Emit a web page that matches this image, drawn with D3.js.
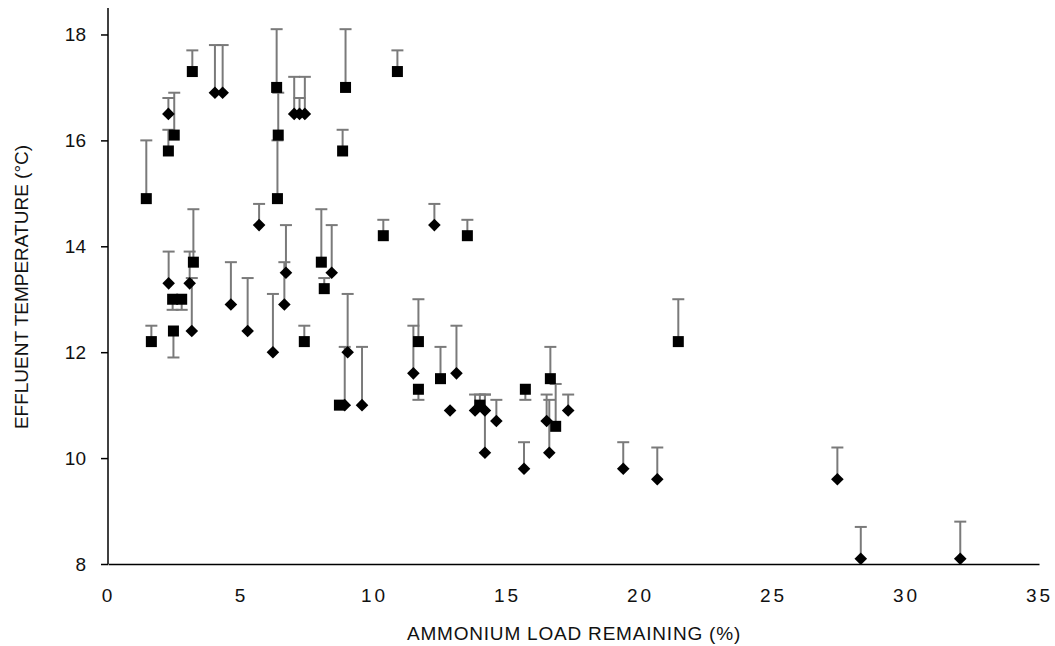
<!DOCTYPE html>
<html>
<head>
<meta charset="utf-8">
<script src="https://cdn.jsdelivr.net/npm/d3@7"></script>
<style>
  body { margin: 0; background: #fff; }
  svg { display: block; }
  text { font-family: "Liberation Sans", Arial, sans-serif; fill: #111; }
</style>
</head>
<body>
<svg id="chart" width="1055" height="646"></svg>
<script>
// Square series: ammonium load remaining (%), effluent temperature (°C), error (signed: + up, - down)
const squareX   = [1.44, 1.63, 2.27, 2.49, 2.43, 2.77, 2.46, 3.17, 3.21, 6.34, 6.40, 6.37, 7.38, 8.02, 8.13, 8.82, 8.93, 8.70, 10.35, 10.88, 11.67, 11.67, 12.50, 13.51, 13.98, 15.69, 16.63, 16.83, 21.44];
const squareY   = [14.9, 12.2, 15.8, 16.1, 13.0, 13.0, 12.4, 17.3, 13.7, 17.0, 16.1, 14.9, 12.2, 13.7, 13.2, 15.8, 17.0, 11.0, 14.2, 17.3, 12.2, 11.3, 11.5, 14.2, 11.0, 11.3, 11.5, 10.6, 12.2];
const squareErr = [1.1, 0.3, 0.4, 0.8, -0.2, -0.2, -0.5, 0.4, 1.0, 1.1, 0.8, 1.1, 0.3, 1.0, 0.2, 0.4, 1.1, 0, 0.3, 0.4, 0.8, -0.2, 0.6, 0.3, 0.2, -0.2, 0.6, 0.8, 0.8];

// Diamond series
const diamondX   = [2.27, 4.02, 4.31, 7.00, 7.20, 7.40, 5.68, 2.28, 3.07, 3.15, 4.62, 5.25, 6.20, 6.69, 6.63, 8.41, 9.01, 8.90, 9.55, 12.27, 11.48, 13.10, 12.86, 13.80, 14.17, 14.17, 14.60, 15.64, 16.49, 16.59, 17.30, 19.37, 20.65, 27.42, 28.30, 32.04];
const diamondY   = [16.5, 16.9, 16.9, 16.5, 16.5, 16.5, 14.4, 13.3, 13.3, 12.4, 12.9, 12.4, 12.0, 13.5, 12.9, 13.5, 12.0, 11.0, 11.0, 14.4, 11.6, 11.6, 10.9, 10.9, 10.9, 10.1, 10.7, 9.8, 10.7, 10.1, 10.9, 9.8, 9.6, 9.6, 8.1, 8.1];
const diamondErr = [0.3, 0.9, 0.9, 0.7, 0.3, 0.7, 0.4, 0.6, 0.6, 1.0, 0.8, 1.0, 1.1, 0.9, 0.8, 0.9, 1.1, 1.1, 1.1, 0.4, 0.9, 0.9, 0, 0.3, 0.3, 1.1, 0.4, 0.5, 0.5, 1.0, 0.3, 0.5, 0.6, 0.6, 0.6, 0.7];

const xTicks = [0, 5, 10, 15, 20, 25, 30, 35];
const yTicks = [8, 10, 12, 14, 16, 18];

const svg = d3.select("#chart");
const x = d3.scaleLinear().domain([0, 35]).range([108, 1039]);
const y = d3.scaleLinear().domain([8, 18.5]).range([564, 8]);

const squares = squareX.map((v, i) => ({ x: v, y: squareY[i], e: squareErr[i] }));
const diamonds = diamondX.map((v, i) => ({ x: v, y: diamondY[i], e: diamondErr[i] }));

// Error bars (drawn beneath markers)
const errG = svg.append("g").attr("stroke", "#7a7a7a").attr("stroke-width", 2);
[...squares, ...diamonds].filter(d => d.e !== 0).forEach(d => {
  const y0 = y(d.y), y1 = y(d.y + d.e), cx = x(d.x);
  errG.append("line").attr("x1", cx).attr("x2", cx).attr("y1", y0).attr("y2", y1);
  errG.append("line").attr("x1", cx - 6).attr("x2", cx + 6).attr("y1", y1).attr("y2", y1);
});

// Axes
const yAxis = svg.append("g").attr("transform", "translate(108,0)")
  .call(d3.axisLeft(y).tickValues(yTicks).tickSize(7).tickPadding(15).tickFormat(d3.format("d")));
yAxis.select(".domain").attr("d", `M0,${y(18.5)}V${y(8)}`).attr("stroke", "#000").attr("stroke-width", 1.5);
yAxis.selectAll(".tick line").attr("stroke", "#000").attr("stroke-width", 1.5);
yAxis.selectAll(".tick text").attr("font-size", 19).attr("fill", "#111")
  .style("font-family", "'Liberation Sans', Arial, sans-serif");

const xAxis = svg.append("g").attr("transform", `translate(0,${y(8)})`)
  .call(d3.axisBottom(x).tickValues(xTicks).tickSize(0).tickPadding(25).tickFormat(d3.format("d")));
xAxis.select(".domain").attr("stroke", "#000").attr("stroke-width", 1.5);
xAxis.selectAll(".tick text").attr("font-size", 19).attr("fill", "#111").attr("letter-spacing", 3)
  .style("font-family", "'Liberation Sans', Arial, sans-serif");

// Markers
svg.append("g").selectAll("rect").data(squares).join("rect")
  .attr("x", d => x(d.x) - 5.5).attr("y", d => y(d.y) - 5.5)
  .attr("width", 11).attr("height", 11).attr("fill", "#000");

svg.append("g").selectAll("path").data(diamonds).join("path")
  .attr("d", d => { const cx = x(d.x), cy = y(d.y), r = 6.3; return `M${cx},${cy - r}L${cx + r},${cy}L${cx},${cy + r}L${cx - r},${cy}Z`; })
  .attr("fill", "#000");

// Axis titles
svg.append("text").attr("x", 574).attr("y", 640).attr("text-anchor", "middle")
  .attr("font-size", 19).attr("letter-spacing", 0.8).text("AMMONIUM LOAD REMAINING (%)");
svg.append("text").attr("transform", "translate(28,287) rotate(-90)").attr("text-anchor", "middle")
  .attr("font-size", 19).text("EFFLUENT TEMPERATURE (°C)");
</script>
</body>
</html>
